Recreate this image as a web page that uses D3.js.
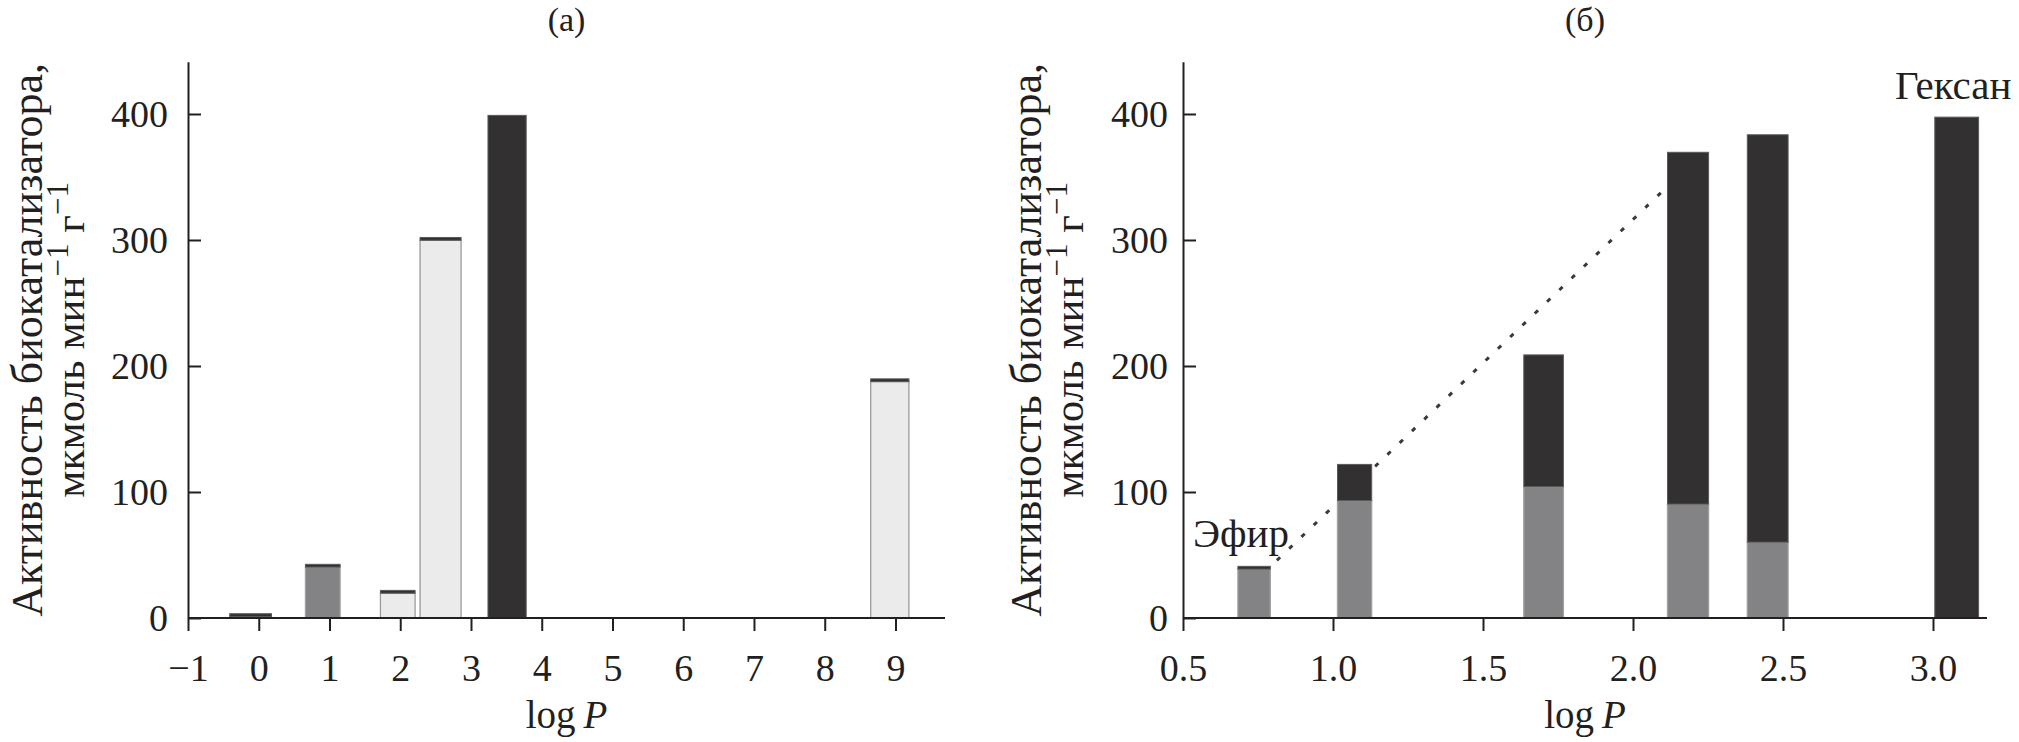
<!DOCTYPE html>
<html>
<head>
<meta charset="utf-8">
<script src="https://cdn.jsdelivr.net/npm/d3@7"></script>
<style>
  body { margin: 0; background: #fff; }
  svg text { font-family: "Liberation Serif", "Times New Roman", serif; fill: #231f20; }
</style>
</head>
<body>
<svg id="chart" width="2019" height="742"></svg>
<script>
// ---- data, panel (a): logP interval of each bar and activity ----
const aLo    = [-0.41, 0.66, 1.72, 2.28, 3.24, 8.65];
const aHi    = [0.18, 1.15, 2.21, 2.86, 3.78, 9.19];
const aLower = [1.2, 40.4, 19.7, 299.8, 0, 187.6];  // lower segment
const aGroup = ["light", "grey", "light", "light", "light", "light"];
const aUpper = [2.2, 2.2, 2.2, 2.2, 398.9, 2.2];     // dark segment on top
const aTicks = [-1, 0, 1, 2, 3, 4, 5, 6, 7, 8, 9];

// ---- data, panel (б) ----
const bLo    = [0.683, 1.015, 1.636, 2.115, 2.381, 3.006];
const bHi    = [0.791, 1.129, 1.768, 2.252, 2.517, 3.152];
const bLower = [38.8, 93.2, 104.3, 90.4, 60.2, 0];
const bGroup = ["grey", "grey", "grey", "grey", "grey", "grey"];
const bUpper = [2.2, 28.7, 104.5, 279.2, 323.3, 397.5];
const bTicks = [0.5, 1.0, 1.5, 2.0, 2.5, 3.0];

// dotted trend line (logP, activity)
const trendX = [0.772, 2.233];
const trendY = [36.4, 369.4];

// solvent labels
const labelText = ["Эфир", "Гексан"];
const labelX = [0.533, 2.873];
const labelY = [56.3, 412.2];

const yTicks = [0, 100, 200, 300, 400];

// ---- styles ----
const ink = "#231f20";
const fills = { light: "#ebebeb", grey: "#838385", dark: "#323031" };

const svg = d3.select("#chart");

const y = d3.scaleLinear().domain([0, 441.5]).range([618, 61.7]);

function drawPanel(p) {
    const x = d3.scaleLinear().domain(p.domain).range(p.range);
    const g = svg.append("g");

    // trend line goes under the bars
    if (p.trend) {
        const line = d3.line().x(d => x(d[0])).y(d => y(d[1]));
        g.append("path")
            .attr("d", line(d3.zip(p.trend[0], p.trend[1])))
            .attr("fill", "none")
            .attr("stroke", "#3a3a3a")
            .attr("stroke-width", 3)
            .attr("stroke-dasharray", "4.5 12.5");
    }

    const rows = p.lo.map((lo, i) => ({
        lo: lo, hi: p.hi[i], low: p.lower[i], up: p.upper[i], grp: p.group[i]
    }));

    // lower segments
    g.selectAll("rect.low").data(rows.filter(d => d.low > 0)).join("rect")
        .attr("class", "low")
        .attr("x", d => x(d.lo))
        .attr("width", d => x(d.hi) - x(d.lo))
        .attr("y", d => y(d.low))
        .attr("height", d => y(0) - y(d.low))
        .attr("fill", d => fills[d.grp])
        .attr("stroke", d => d.grp == "light" ? "#9b9b9b" : "#a0a0a2")
        .attr("stroke-width", 1.3);

    // dark upper segments
    g.selectAll("rect.up").data(rows).join("rect")
        .attr("class", "up")
        .attr("x", d => x(d.lo))
        .attr("width", d => x(d.hi) - x(d.lo))
        .attr("y", d => y(d.low + d.up))
        .attr("height", d => y(d.low) - y(d.low + d.up))
        .attr("fill", fills.dark)
        .attr("stroke", "#5a5a5a")
        .attr("stroke-width", 1);

    // axes
    const xa = g.append("g")
        .attr("transform", `translate(0,${y(0)})`)
        .call(d3.axisBottom(x).tickValues(p.ticks).tickFormat(p.fmt)
            .tickSizeInner(13).tickSizeOuter(0).tickPadding(23));
    const ya = g.append("g")
        .attr("transform", `translate(${p.range[0]},0)`)
        .call(d3.axisLeft(y).tickValues(yTicks)
            .tickSizeInner(-13).tickSizeOuter(0).tickPadding(p.yPad));
    [xa, ya].forEach(a => {
        a.attr("font-size", 38).attr("font-family", null).style("color", ink);
        a.selectAll("path, line").attr("stroke-width", 2);
    });
    // extend domain path of x axis to the full range
    xa.select(".domain").attr("d", `M${p.range[0]},0H${p.range[1]}`);

    // x title: log P
    const xt = g.append("text")
        .attr("x", (p.range[0] + p.range[1]) / 2)
        .attr("y", 728)
        .attr("text-anchor", "middle")
        .attr("font-size", 39);
    xt.append("tspan").text("log\u2009");
    xt.append("tspan").attr("font-style", "italic").text("P");

    // y title, two lines
    const cy = (y(0) + y.range()[1]) / 2;
    g.append("text")
        .attr("transform", `translate(${p.range[0] + p.yT1},${cy}) rotate(-90)`)
        .attr("text-anchor", "middle")
        .attr("font-size", 44)
        .text("Активность биокатализатора,");
    const t2 = g.append("text")
        .attr("transform", `translate(${p.range[0] + p.yT2},${cy}) rotate(-90)`)
        .attr("text-anchor", "middle")
        .attr("font-size", 43);
    t2.append("tspan").text("мкмоль мин");
    t2.append("tspan").attr("font-size", 31).attr("dy", -16).text("\u22121");
    t2.append("tspan").attr("dy", 16).text(" г");
    t2.append("tspan").attr("font-size", 31).attr("dy", -16).text("\u22121");

    // panel title
    g.append("text")
        .attr("x", (p.range[0] + p.range[1]) / 2)
        .attr("y", 31)
        .attr("text-anchor", "middle")
        .attr("font-size", 34)
        .text(p.title);

    if (p.labels) {
        g.selectAll("text.lab").data(p.labels[0]).join("text")
            .attr("class", "lab")
            .attr("x", (d, i) => x(p.labels[1][i]))
            .attr("y", (d, i) => y(p.labels[2][i]))
            .attr("font-size", 41)
            .text(d => d);
    }
}

drawPanel({
    title: "(a)", domain: [-1, 9.7], range: [188, 945],
    ticks: aTicks, fmt: d3.format("d"),
    lo: aLo, hi: aHi, lower: aLower, upper: aUpper, group: aGroup,
    yPad: 20, yT1: -146, yT2: -104
});

drawPanel({
    title: "(б)", domain: [0.5, 3.18], range: [1183, 1987],
    ticks: bTicks, fmt: d3.format(".1f"),
    lo: bLo, hi: bHi, lower: bLower, upper: bUpper, group: bGroup,
    trend: [trendX, trendY],
    labels: [labelText, labelX, labelY],
    yPad: 15, yT1: -142, yT2: -100
});
</script>
</body>
</html>
